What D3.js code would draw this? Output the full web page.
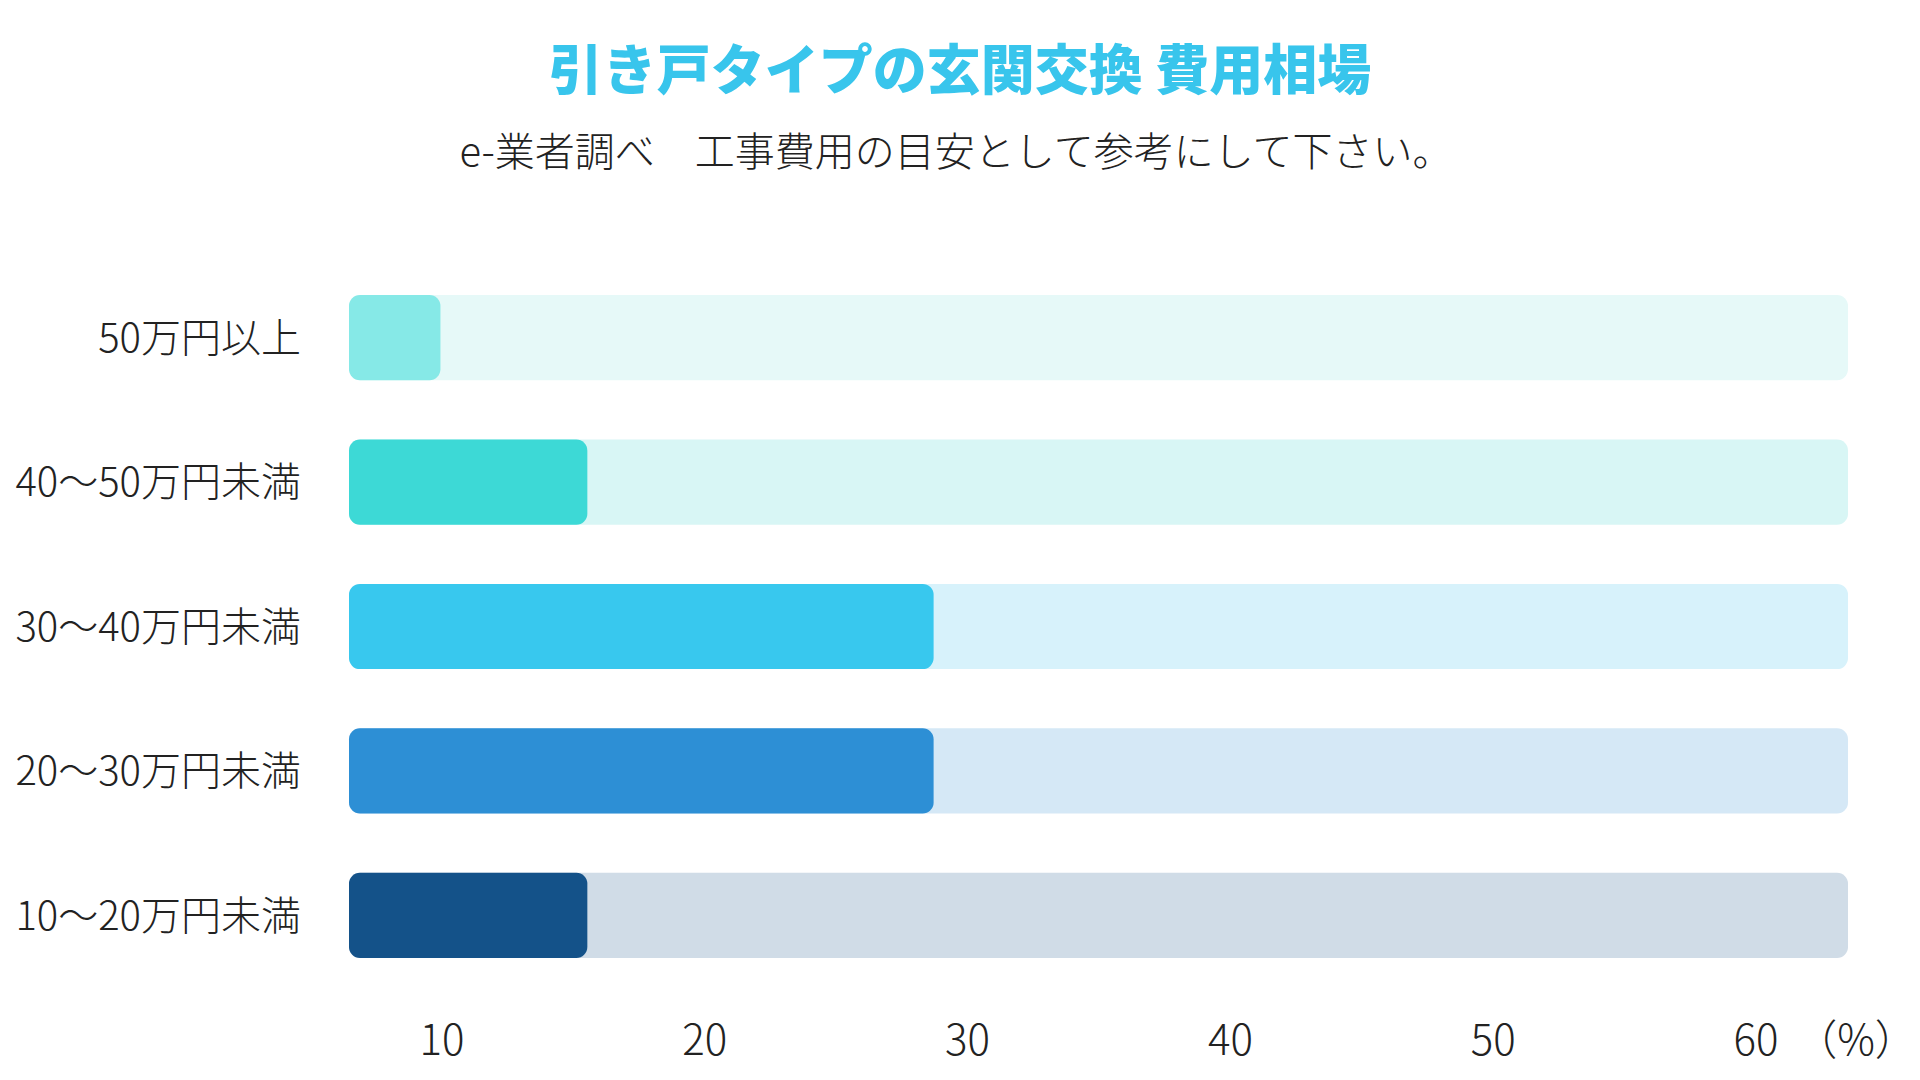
<!DOCTYPE html>
<html lang="ja">
<head>
<meta charset="utf-8">
<script src="https://cdn.jsdelivr.net/npm/d3@7"></script>
<style>
  html, body { margin: 0; padding: 0; background: #fff; }
  svg { display: block; font-family: "Noto Sans CJK JP", "Noto Sans", sans-serif; }
</style>
</head>
<body>
<svg width="1920" height="1080"></svg>
<script>
// chart data, top row first
const categories = ["50万円以上", "40～50万円未満", "30～40万円未満", "20～30万円未満", "10～20万円未満"];
const values = [6.1, 15.9, 39, 39, 15.9];
const barColors = ["#86e9e7", "#3dd9d6", "#38c8ee", "#2d8fd5", "#145289"];
const trackColors = ["#e6f9f8", "#d8f6f5", "#d7f2fb", "#d5e8f6", "#d0dce7"];
const tickLabels = ["10", "20", "30", "40", "50", "60"];

const title = "引き戸タイプの玄関交換 費用相場";
const subtitle = "e-業者調べ　工事費用の目安として参考にして下さい。";

const svg = d3.select("svg");

// scales
const x = d3.scaleLinear().domain([0, 100]).range([349, 1848]);
const y = d3.scaleBand().domain(categories).range([295, 958]).paddingInner(0.41);
const tickX = d3.scalePoint().domain(tickLabels).range([442, 1756]);

// title + subtitle
svg.append("text")
  .attr("x", 960).attr("y", 90)
  .attr("text-anchor", "middle")
  .attr("font-size", 54).attr("font-weight", 900)
  .attr("fill", "#38c5ec")
  .text(title);

svg.append("text")
  .attr("x", 956).attr("y", 166)
  .attr("text-anchor", "middle")
  .attr("font-size", 40).attr("font-weight", 300)
  .attr("fill", "#222")
  .text(subtitle);

const rows = svg.append("g").attr("class", "rows")
  .selectAll("g")
  .data(categories)
  .enter()
  .append("g");

// background track
rows.append("rect")
  .attr("x", x(0))
  .attr("y", (d) => y(d))
  .attr("width", x(100) - x(0))
  .attr("height", y.bandwidth())
  .attr("rx", 11)
  .attr("fill", (d, i) => trackColors[i]);

// value bar
rows.append("rect")
  .attr("x", x(0))
  .attr("y", (d) => y(d))
  .attr("width", (d, i) => x(values[i]) - x(0))
  .attr("height", y.bandwidth())
  .attr("rx", 11)
  .attr("fill", (d, i) => barColors[i]);

// category labels
rows.append("text")
  .attr("x", 301)
  .attr("y", (d) => y(d) + y.bandwidth() / 2)
  .attr("dy", "0.36em")
  .attr("text-anchor", "end")
  .attr("font-size", 40)
  .attr("font-weight", 300)
  .attr("fill", "#222")
  .text((d) => d);

// bottom tick labels
const ticks = svg.append("g").attr("class", "ticks");
ticks.selectAll("text")
  .data(tickLabels)
  .enter()
  .append("text")
  .attr("x", (d) => tickX(d))
  .attr("y", 1040)
  .attr("dy", "0.36em")
  .attr("text-anchor", "middle")
  .attr("font-size", 42)
  .attr("font-weight", 300)
  .attr("fill", "#222")
  .text((d) => d);

ticks.append("text")
  .attr("x", 1856)
  .attr("y", 1040)
  .attr("dy", "0.36em")
  .attr("text-anchor", "middle")
  .attr("font-size", 42)
  .attr("font-weight", 300)
  .attr("fill", "#222")
  .text("（%）");
</script>
</body>
</html>
